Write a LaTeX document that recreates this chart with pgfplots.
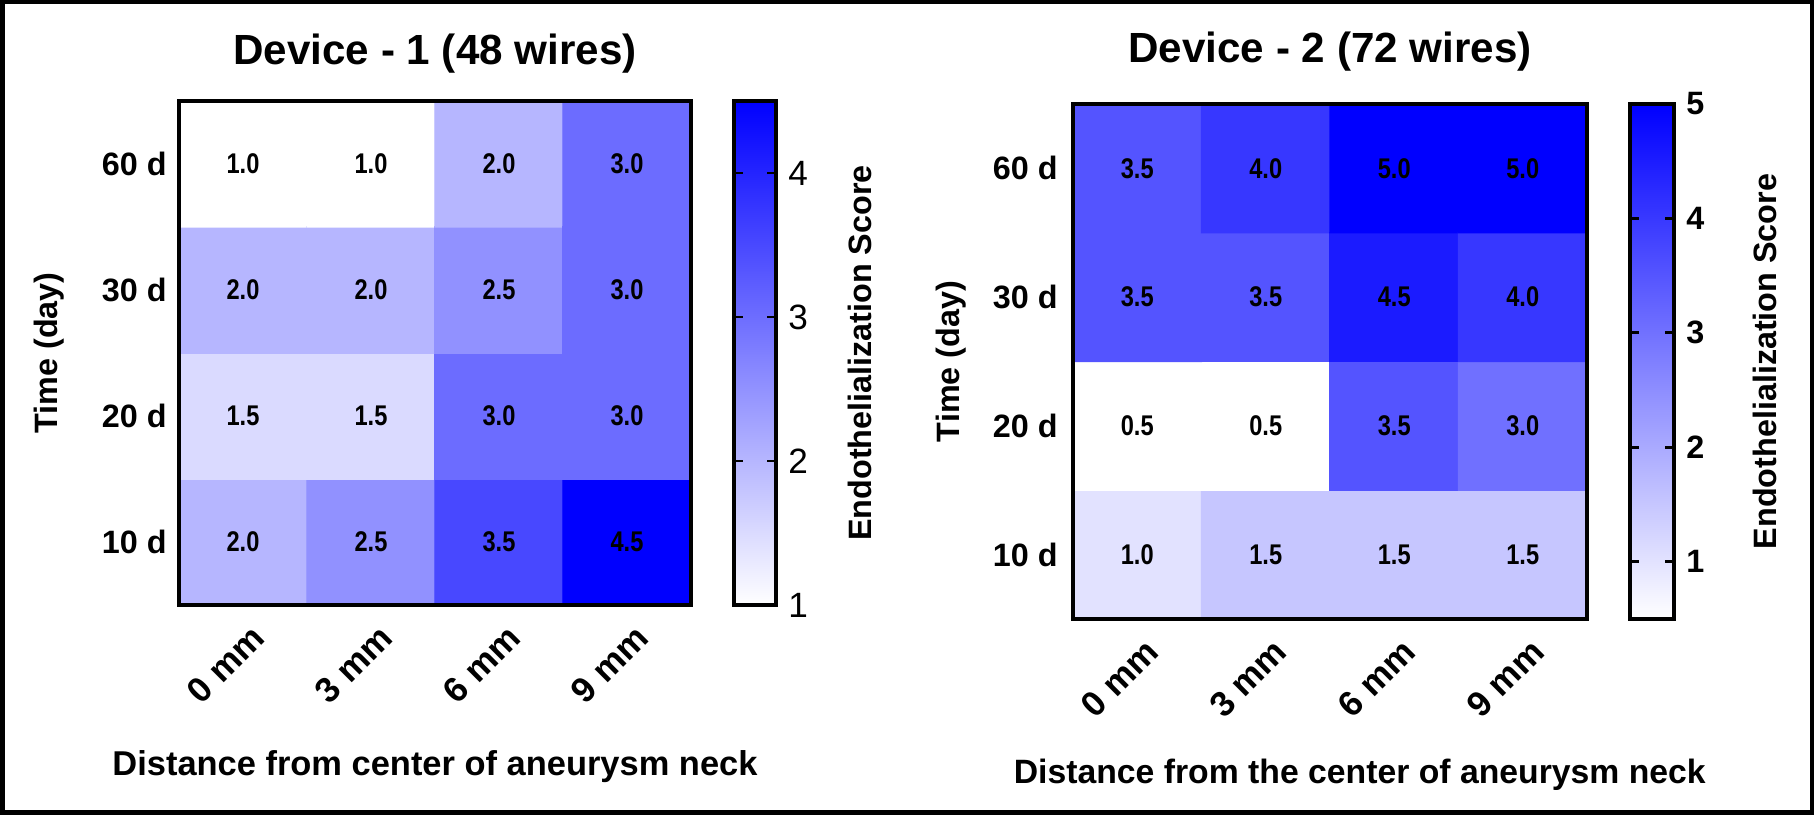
\documentclass[border=0pt]{standalone}
\usepackage{fontspec}
\setmainfont{Liberation Sans}
\newfontfamily\cellfont[FakeStretch=0.83]{Liberation Sans}
\usepackage{pgfplots}
\pgfplotsset{compat=1.18}
\usepackage{pgfplotstable}

\pgfplotstableread{
x y z
0 0 2.0
1 0 2.5
2 0 3.5
3 0 4.5
0 1 1.5
1 1 1.5
2 1 3.0
3 1 3.0
0 2 2.0
1 2 2.0
2 2 2.5
3 2 3.0
0 3 1.0
1 3 1.0
2 3 2.0
3 3 3.0
}\devone
\pgfplotstableread{
x y z
0 0 1.0
1 0 1.5
2 0 1.5
3 0 1.5
0 1 0.5
1 1 0.5
2 1 3.5
3 1 3.0
0 2 3.5
1 2 3.5
2 2 4.5
3 2 4.0
0 3 3.5
1 3 4.0
2 3 5.0
3 3 5.0
}\devtwo

\newcommand{\lab}{\bfseries\fontsize{9.2}{11}\selectfont}
\newcommand{\xtl}{\bfseries\fontsize{10}{12}\selectfont}

\pgfplotsset{
  /pgf/number format/assume math mode=true,
  heat/.style={
    scale only axis, axis on top,
    colormap={wb}{rgb255=(255,255,255) rgb255=(0,0,255)},
    xmin=-0.5, xmax=3.5, ymin=-0.5, ymax=3.5,
    enlargelimits=false,
    xtick={0,1,2,3}, ytick={0,1,2,3},
    xticklabels={0 mm,3 mm,6 mm,9 mm},
    yticklabels={10 d,20 d,30 d,60 d},
    major tick length=0pt,
    axis line style={line width=1pt},
    yticklabel style={font=\lab},
    xticklabel style={font=\xtl, xshift=0.06cm, yshift=-0.17cm, rotate=45, anchor=north east, inner sep=0pt},
    title style={font=\bfseries\fontsize{12}{14}\selectfont, anchor=center},
    ylabel style={font=\lab},
    colorbar,
  },
  heatcells/.style={matrix plot*, mesh/cols=4,
    nodes near coords={\pgfmathprintnumber[fixed,fixed zerofill,precision=1]{\pgfplotspointmeta}},
    every node near coord/.append style={anchor=center, text=black, font=\cellfont\bfseries\fontsize{8.1}{9.5}\selectfont},
  },
  cbar/.style={
    at={(parent axis.north east)}, anchor=north west, width=0.42cm,
    axis line style={line width=1pt},
    major tick length=0.09cm, tick align=inside,
    ytick pos=both, yticklabel pos=right,
    tick style={line width=0.8pt, black},
    ylabel={Endothelialization Score},
    ylabel style={font=\lab, anchor=center},
  },
}

\begin{document}
\begin{tikzpicture}
\useasboundingbox (0,0) rectangle (18.14,8.15);
\draw[line width=0.45mm] (0.0225,0.0225) rectangle (18.1175,8.1275);

\begin{axis}[heat, at={(1.79cm,2.10cm)}, anchor=south west, width=5.12cm, height=5.04cm,
  title={Device - 1 (48 wires)}, title style={at={(0.5,1)}, yshift=0.26cm},
  xlabel={Distance from center of aneurysm neck},
  xlabel style={font=\bfseries\fontsize{9.8}{12}\selectfont, at={(axis description cs:0.5,-0.321)}, anchor=center},
  ylabel={Time (day)},
  ylabel style={at={(axis description cs:-0.254,0.5)}, anchor=center},
  point meta min=1, point meta max=4.5,
  colorbar style={cbar, xshift=0.13cm, ytick={1,2,3,4},
    yticklabel style={font=\fontsize{10}{12}\selectfont},
    ylabel style={at={(axis description cs:3.0,0.5)}}},
]
\addplot[heatcells, point meta=\thisrow{z}] table[x=x, y=y] {\devone};
\end{axis}

\begin{axis}[heat, at={(10.73cm,1.96cm)}, anchor=south west, width=5.14cm, height=5.15cm,
  title={Device - 2 (72 wires)}, title style={at={(0.5,1)}, yshift=0.31cm},
  xlabel={Distance from the center of aneurysm neck},
  xlabel style={font=\bfseries\fontsize{9.6}{12}\selectfont, at={(axis description cs:0.558,-0.303)}, anchor=center},
  ylabel={Time (day)},
  ylabel style={at={(axis description cs:-0.237,0.5)}, anchor=center},
  yticklabel style={xshift=-0.03cm},
  point meta min=0.5, point meta max=5,
  colorbar style={cbar, xshift=0.13cm, width=0.44cm, ytick={1,2,3,4,5},
    yticklabel style={font=\lab},
    ylabel style={at={(axis description cs:3.07,0.5)}}},
]
\addplot[heatcells, point meta=\thisrow{z}] table[x=x, y=y] {\devtwo};
\end{axis}
\end{tikzpicture}
\end{document}
